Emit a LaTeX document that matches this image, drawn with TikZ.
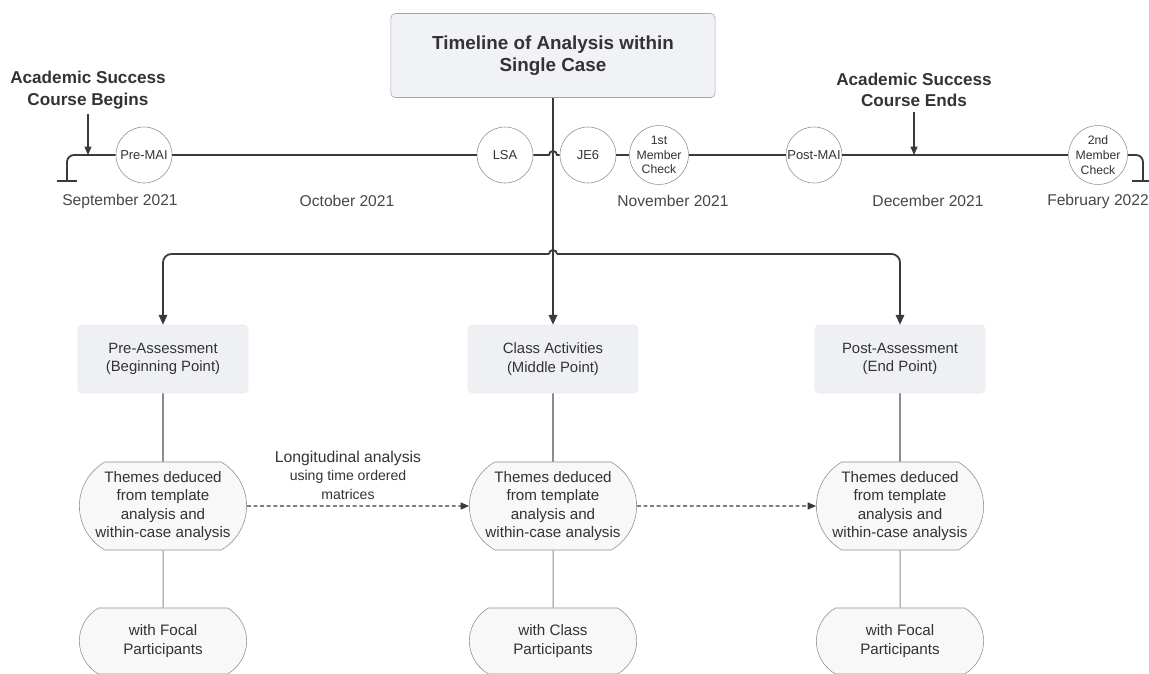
\documentclass[tikz,border=0pt]{standalone}
\usepackage{fontspec}
\setmainfont{Liberation Sans}
\usetikzlibrary{arrows.meta, shapes.geometric, shapes.misc, positioning, calc}
\definecolor{inkgray}{HTML}{333333}
\definecolor{linegray}{HTML}{3A3A3A}
\definecolor{rimgray}{HTML}{8E8E8E}
\definecolor{titlefill}{HTML}{F1F2F6}
\definecolor{phasefill}{HTML}{EEF0F4}
\definecolor{themefill}{HTML}{F8F8F8}

\begin{document}
\begin{tikzpicture}[
        x=0.025cm, y=-0.025cm,
        every node/.style={text=inkgray},
        titlebox/.style={rectangle, rounded corners=3pt, draw=rimgray!80, fill=titlefill, minimum width=8.1cm, minimum height=2.1cm, align=center, font=\fontsize{13.4}{16}\selectfont\bfseries},
        marktext/.style={align=center, font=\fontsize{12.2}{15.4}\selectfont\bfseries},
        milestone/.style={circle, draw=rimgray, fill=white, minimum size=1.4cm, inner sep=0pt, align=center, font=\fontsize{9.2}{10.5}\selectfont},
        checkfont/.style={font=\fontsize{8.7}{10.5}\selectfont},
        month/.style={font=\fontsize{11.1}{13}\selectfont, text=inkgray!90},
        phasebox/.style={rectangle, rounded corners=3pt, draw=phasefill!70!gray!40, fill=phasefill, minimum width=4.25cm, minimum height=1.7cm, align=center, font=\fontsize{10.6}{13}\selectfont},
        themepill/.style={rounded rectangle, rounded rectangle arc length=120, draw=rimgray, fill=themefill, minimum width=4.25cm, minimum height=2.2cm, inner sep=1pt, align=center, font=\fontsize{10.8}{13}\selectfont},
        grouppill/.style={themepill, minimum height=1.65cm},
        tline/.style={draw=linegray, line width=1.3pt},
        pointer/.style={draw=linegray, line width=0.8pt, -{Triangle[width=5pt, length=6pt]}},
        branch/.style={tline, -{Triangle[width=6pt, length=7pt]}},
        stem/.style={draw=linegray!90, line width=1pt},
        thinstem/.style={draw=rimgray, line width=0.7pt},
        dashflow/.style={draw=linegray, line width=0.9pt, dash pattern=on 2.8pt off 1.9pt, -{Triangle[width=5pt, length=6pt]}},
        flowlabel/.style={align=center, font=\fontsize{11.2}{13}\selectfont}
    ]
        \useasboundingbox (0,0) rectangle (1149,673);

        % Title
        \node[titlebox] (title) at (553,55.5) {Timeline of Analysis within\\Single Case};

        % Course markers
        \node[marktext] (begins) at (88,90) {Academic Success\\Course Begins};
        \node[marktext] (ends) at (914,90) {Academic Success\\Course Ends};

        % Milestones on the timeline
        \node[milestone] (premai)  at (144,155)  {Pre-MAI};
        \node[milestone] (lsa)     at (505,155)  {LSA};
        \node[milestone] (je6)     at (588,155)  {JE6};
        \node[milestone, checkfont] (check1) at (659,155) {1st\\Member\\Check};
        \node[milestone] (postmai) at (814,155)  {Post-MAI};
        \node[milestone, checkfont] (check2) at (1098,155) {2nd\\Member\\Check};

        \coordinate (startcap) at (67,181);
        \coordinate (endcap)   at (1143,181);
        \coordinate (beginpt)  at (88,155);
        \coordinate (endpt)    at (914,155);
        \coordinate (cross)    at (553,155);
        \coordinate (fork)     at (553,254);

        % Months
        \node[month] (sep) at (120,201)  {September 2021};
        \node[month] (oct) at (347,201)  {October 2021};
        \node[month] (nov) at (673,201)  {November 2021};
        \node[month] (dec) at (928,201)  {December 2021};
        \node[month] (feb) at (1098,201) {February 2022};

        % Timeline
        \draw[tline] (startcap) ++(-10,0) -- ++(20,0);
        \draw[tline, rounded corners=5] (startcap) |- (premai);
        \draw[tline] (premai) -- (lsa);
        \draw[tline] (lsa) -- ($(cross)+(-4,0)$) arc[start angle=180, end angle=360, radius=4] -- (je6);
        \draw[tline] (je6) -- (check1);
        \draw[tline] (check1) -- (postmai);
        \draw[tline] (postmai) -- (check2);
        \draw[tline, rounded corners=5] (check2) -| (endcap);
        \draw[tline] (endcap) ++(-11,0) -- ++(22,0);

        \draw[pointer] (begins) -- (beginpt);
        \draw[pointer] (ends) -- (endpt);

        % Phases
        \node[phasebox] (preass)     at (163,359) {Pre-Assessment\\(Beginning Point)};
        \node[phasebox] (activities) at (553,359) {Class Activities\\(Middle Point)};
        \node[phasebox] (postass)    at (900,359) {Post-Assessment\\(End Point)};

        \draw[branch] (title) -- (activities);
        \draw[tline] ($(fork)+(-4,0)$) arc[start angle=180, end angle=360, radius=4];
        \draw[branch, rounded corners=6] ($(fork)+(-4,0)$) -| (preass);
        \draw[branch, rounded corners=6] ($(fork)+(4,0)$) -| (postass);

        % Themes
        \node[themepill] (prethemes)  at (163,506) {Themes deduced\\from template\\analysis and\\within-case analysis};
        \node[themepill] (midthemes)  at (553,506) {Themes deduced\\from template\\analysis and\\within-case analysis};
        \node[themepill] (postthemes) at (900,506) {Themes deduced\\from template\\analysis and\\within-case analysis};

        \node[grouppill] (prefocal)  at (163,641) {with Focal\\Participants};
        \node[grouppill] (classpart) at (553,641) {with Class\\Participants};
        \node[grouppill] (postfocal) at (900,641) {with Focal\\Participants};

        \foreach \a/\b in {preass/prethemes, activities/midthemes, postass/postthemes}
            \draw[stem] (\a) -- (\b);
        \foreach \a/\b in {prethemes/prefocal, midthemes/classpart, postthemes/postfocal}
            \draw[thinstem] (\a) -- (\b);

        \draw[dashflow] (prethemes) -- node[flowlabel, above=1pt, pos=0.455] {Longitudinal analysis\\\fontsize{10}{12}\selectfont using time ordered\\\fontsize{10}{12}\selectfont matrices} (midthemes);
        \draw[dashflow] (midthemes) -- (postthemes);
    \end{tikzpicture}
\end{document}
